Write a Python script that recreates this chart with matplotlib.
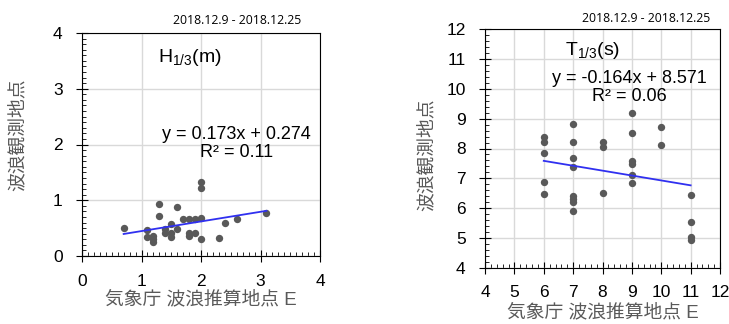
import numpy as np
import matplotlib
matplotlib.use("Agg")
import matplotlib.pyplot as plt
from matplotlib.ticker import MultipleLocator

plt.rcParams['font.family'] = ['Liberation Sans', 'Noto Sans CJK JP']
plt.rcParams['mathtext.fontset'] = 'custom'
plt.rcParams['mathtext.rm'] = 'Liberation Sans'

period = "2018.12.9 - 2018.12.25"
xlabel = "気象庁 波浪推算地点 E"
ylabel = "波浪観測地点"

# significant wave height (m)
h_jma = [0.7, 1.1, 1.1, 1.2, 1.2, 1.2, 1.3, 1.3, 1.4, 1.4, 1.5, 1.5, 1.5,
         1.6, 1.6, 1.7, 1.8, 1.8, 1.8, 1.9, 1.9, 2.0, 2.0, 2.0, 2.0,
         2.3, 2.4, 2.6, 3.1]
h_obs = [0.50, 0.46, 0.34, 0.35, 0.30, 0.26, 0.94, 0.72, 0.48, 0.42, 0.57, 0.41, 0.34,
         0.87, 0.49, 0.66, 0.66, 0.41, 0.36, 0.66, 0.41, 1.33, 1.22, 0.69, 0.30,
         0.32, 0.59, 0.66, 0.77]
h_fit = (0.173, 0.274, 0.11)

# significant wave period (s)
t_jma = [6, 6, 6, 6, 6,
         7, 7, 7, 7, 7, 7, 7, 7,
         8, 8, 8,
         9, 9, 9, 9, 9, 9,
         10, 10,
         11, 11, 11, 11]
t_obs = [8.40, 8.21, 7.84, 6.89, 6.49,
         8.83, 8.23, 7.67, 7.37, 6.42, 6.32, 6.21, 5.92,
         8.21, 8.05, 6.50,
         9.20, 8.53, 7.58, 7.49, 7.10, 6.86,
         8.72, 8.12,
         6.45, 5.54, 5.03, 4.95]
t_fit = (-0.164, 8.571, 0.06)

fig = plt.figure(figsize=(7.29, 3.24), dpi=100)


def panel(rect, x, y, fit, lim, minor, title, title_xy, eq_xy, date_xy,
          xpad, ypad, xlab_xy, ylab_xy):
    ax = fig.add_axes(rect)
    ax.set_xlim(*lim)
    ax.set_ylim(*lim)
    for axis in (ax.xaxis, ax.yaxis):
        axis.set_major_locator(MultipleLocator(1))
        axis.set_minor_locator(MultipleLocator(minor))
    ax.grid(True, which='major', color='#d9d9d9', linewidth=1.0)
    ax.set_axisbelow(True)
    ax.tick_params(which='major', direction='inout', length=8, width=0.8,
                   labelsize=12.5)
    ax.tick_params(axis='x', which='major', pad=xpad)
    ax.tick_params(axis='y', which='major', pad=ypad)
    ax.tick_params(which='minor', direction='in', length=3, width=0.6)
    for s in ax.spines.values():
        s.set_color('black')
        s.set_linewidth(0.8)

    ax.scatter(x, y, s=28, color='#595959', zorder=3, linewidths=0)
    a, b, r2 = fit
    xs = np.array([min(x), max(x)])
    ax.plot(xs, a * xs + b, color='#3030f0', linewidth=1.3, zorder=4)

    ax.set_xlabel(xlabel, fontsize=13.5, color='#595959')
    ax.set_ylabel(ylabel, fontsize=13.5, color='#595959')
    ax.xaxis.set_label_coords(*xlab_xy)
    ax.yaxis.set_label_coords(*ylab_xy)

    ax.text(*title_xy, title, transform=ax.transAxes, fontsize=14,
            ha='left', va='center')
    sign = '-' if b < 0 else '+'
    eq = f"y = {a:.3f}x {sign} {abs(b):.3f}\nR² = {r2:.2f}"
    ax.text(*eq_xy, eq, transform=ax.transAxes, fontsize=13,
            ha='center', va='center', linespacing=1.05)
    fig.text(*date_xy, period, fontsize=8.8, ha='center', va='center',
             family=['Open Sans', 'Liberation Sans'])
    return ax


panel([82 / 729, 68 / 324, 238 / 729, 223 / 324], h_jma, h_obs, h_fit,
      (0, 4), 0.1, r"$\mathrm{H_{1/3}(m)}$",
      (0.32, 0.89), (0.65, 0.505), (237 / 729, 1 - 21 / 324),
      xpad=9, ypad=10, xlab_xy=(0.5, -0.155), ylab_xy=(-0.232, 0.543))

panel([485 / 729, 56 / 324, 235 / 729, 239 / 324], t_jma, t_obs, t_fit,
      (4, 12), 0.2, r"$\mathrm{T_{1/3}(s)}$",
      (0.34, 0.91), (0.616, 0.755), (646 / 729, 1 - 18 / 324),
      xpad=8, ypad=10, xlab_xy=(0.5, -0.15), ylab_xy=(-0.212, 0.475))

fig.savefig("out.png", dpi=100)
